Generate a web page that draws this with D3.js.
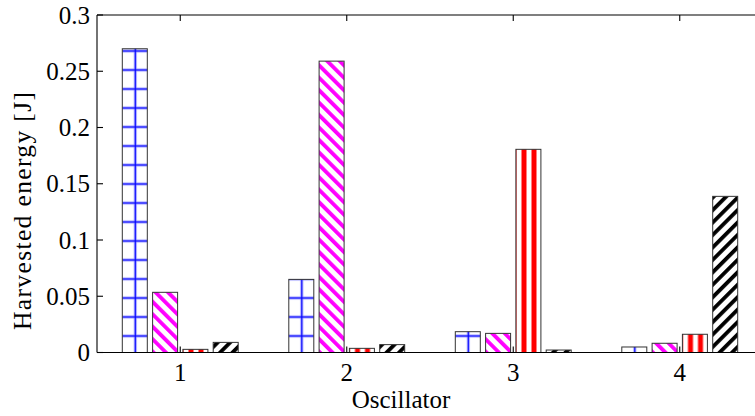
<!DOCTYPE html>
<html>
<head>
<meta charset="utf-8">
<script src="https://cdn.jsdelivr.net/npm/d3@7"></script>
<style>
  body { margin: 0; background: #fff; }
  text { font-family: "Liberation Serif", "Times New Roman", serif; fill: #000; }
</style>
</head>
<body>
<svg id="chart" width="755" height="416"></svg>
<script>
// Data
const oscillators = ['1', '2', '3', '4'];
const seriesNames = ['s1', 's2', 's3', 's4'];
const seriesValues = [
  [0.270, 0.0535, 0.0028, 0.0090],   // oscillator 1
  [0.065, 0.259, 0.0037, 0.0070],    // oscillator 2
  [0.0185, 0.0170, 0.1806, 0.0022],  // oscillator 3
  [0.0049, 0.0082, 0.0162, 0.1388]   // oscillator 4
];
const yTicks = [0, 0.05, 0.1, 0.15, 0.2, 0.25, 0.3];
const yTickLabels = ['0', '0.05', '0.1', '0.15', '0.2', '0.25', '0.3'];

const svg = d3.select('#chart');
const plot = { left: 97, top: 15, right: 763, bottom: 352.5 };

const x0 = d3.scaleBand()
  .domain(oscillators)
  .range([plot.left, plot.right])
  .paddingInner(0)
  .paddingOuter(0);

const x1 = d3.scaleBand()
  .domain(seriesNames)
  .range([0, x0.bandwidth()])
  .paddingInner(0.175)
  .paddingOuter(0.835);

const y = d3.scaleLinear()
  .domain([0, 0.3])
  .range([plot.bottom, plot.top]);

// Hatch patterns (screen-space, like the original fills)
const defs = svg.append('defs');

const grid = defs.append('pattern')
  .attr('id', 'hatch-grid')
  .attr('patternUnits', 'userSpaceOnUse')
  .attr('x', -9.2).attr('y', 3.5)
  .attr('width', 19).attr('height', 19);
grid.append('rect').attr('width', 19).attr('height', 19).attr('fill', '#fff');
grid.append('line').attr('x1', 9.5).attr('x2', 9.5).attr('y1', 0).attr('y2', 19)
  .attr('stroke', '#c4c4ff').attr('stroke-width', 3.2);
grid.append('line').attr('x1', 0).attr('x2', 19).attr('y1', 9.5).attr('y2', 9.5)
  .attr('stroke', '#c4c4ff').attr('stroke-width', 3.2);
grid.append('line').attr('x1', 9.5).attr('x2', 9.5).attr('y1', 0).attr('y2', 19)
  .attr('stroke', '#0000ff').attr('stroke-width', 1.4);
grid.append('line').attr('x1', 0).attr('x2', 19).attr('y1', 9.5).attr('y2', 9.5)
  .attr('stroke', '#0000ff').attr('stroke-width', 1.4);

const diag = (id, color, angle) => {
  const p = defs.append('pattern')
    .attr('id', id)
    .attr('patternUnits', 'userSpaceOnUse')
    .attr('width', 8.8).attr('height', 8.8)
    .attr('patternTransform', `rotate(${angle})`);
  p.append('rect').attr('width', 8.8).attr('height', 8.8).attr('fill', '#fff');
  p.append('rect').attr('x', 0).attr('width', 3.8).attr('height', 8.8).attr('fill', color);
};
diag('hatch-magenta', '#ff00ff', -45);
diag('hatch-black', '#000000', 45);

const vert = defs.append('pattern')
  .attr('id', 'hatch-red')
  .attr('patternUnits', 'userSpaceOnUse')
  .attr('width', 10).attr('height', 10);
vert.append('rect').attr('width', 10).attr('height', 10).attr('fill', '#fff');
vert.append('rect').attr('x', 1.5).attr('width', 5).attr('height', 10).attr('fill', '#ff0000');

const fills = ['url(#hatch-grid)', 'url(#hatch-magenta)', 'url(#hatch-red)', 'url(#hatch-black)'];

// Bars
const groups = svg.append('g').attr('class', 'bars')
  .selectAll('g')
  .data(oscillators)
  .join('g')
  .attr('transform', d => `translate(${x0(d)},0)`);

groups.selectAll('rect')
  .data((d, i) => seriesValues[i].map((v, j) => ({ s: seriesNames[j], v, j })))
  .join('rect')
  .attr('x', d => x1(d.s))
  .attr('y', d => y(d.v))
  .attr('width', x1.bandwidth())
  .attr('height', d => y(0) - y(d.v))
  .attr('fill', d => fills[d.j])
  .attr('stroke', '#333')
  .attr('stroke-width', 1);

// Axes frame
const axisG = svg.append('g').attr('class', 'axes')
  .attr('stroke', '#000').attr('stroke-width', 1.1).attr('fill', 'none');
axisG.append('line').attr('x1', plot.left).attr('x2', plot.right)
  .attr('y1', plot.top).attr('y2', plot.top);
axisG.append('line').attr('x1', plot.left).attr('x2', plot.right)
  .attr('y1', plot.bottom).attr('y2', plot.bottom);
axisG.append('line').attr('x1', plot.left).attr('x2', plot.left)
  .attr('y1', plot.top).attr('y2', plot.bottom);

const tickLen = 6;
const xc = d => x0(d) + x0.bandwidth() / 2;

// y ticks + labels
axisG.selectAll('line.ytick')
  .data(yTicks)
  .join('line')
  .attr('class', 'ytick')
  .attr('x1', plot.left).attr('x2', plot.left + tickLen)
  .attr('y1', d => y(d)).attr('y2', d => y(d));

svg.append('g').selectAll('text')
  .data(yTicks)
  .join('text')
  .attr('x', plot.left - 7)
  .attr('y', d => y(d))
  .attr('dy', '0.34em')
  .attr('text-anchor', 'end')
  .attr('font-size', 25)
  .text((d, i) => yTickLabels[i]);

// x ticks (bottom and top) + labels
axisG.selectAll('line.xtick-b')
  .data(oscillators)
  .join('line')
  .attr('class', 'xtick-b')
  .attr('x1', xc).attr('x2', xc)
  .attr('y1', plot.bottom).attr('y2', plot.bottom - tickLen);
axisG.selectAll('line.xtick-t')
  .data(oscillators)
  .join('line')
  .attr('class', 'xtick-t')
  .attr('x1', xc).attr('x2', xc)
  .attr('y1', plot.top).attr('y2', plot.top + tickLen);

svg.append('g').selectAll('text')
  .data(oscillators)
  .join('text')
  .attr('x', xc)
  .attr('y', 381)
  .attr('text-anchor', 'middle')
  .attr('font-size', 25)
  .text(d => d);

svg.append('text')
  .attr('x', 401)
  .attr('y', 408)
  .attr('text-anchor', 'middle')
  .attr('font-size', 25)
  .text('Oscillator');

svg.append('text')
  .attr('transform', 'translate(31,211) rotate(-90)')
  .attr('text-anchor', 'middle')
  .attr('font-size', 25.5)
  .attr('textLength', 238)
  .attr('lengthAdjust', 'spacing')
  .text('Harvested energy [J]');
</script>
</body>
</html>
